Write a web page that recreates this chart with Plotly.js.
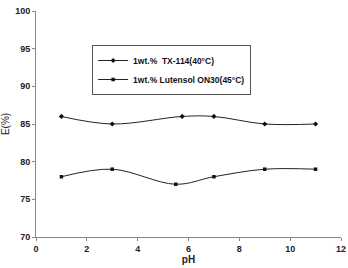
<!DOCTYPE html>
<html><head><meta charset="utf-8">
<script src="https://cdn.plot.ly/plotly-3.0.1.min.js"></script>
<style>html,body{margin:0;padding:0;background:#fff}#c{width:348px;height:268px}</style>
</head><body><div id="c"></div>
<script>
const txName = "1wt.%  TX-114(40°C)";
const txX = [1, 3, 5.75, 7, 9, 11];
const txY = [86, 85, 86, 86, 85, 85];
const luName = "1wt.% Lutensol ON30(45°C)";
const luX = [1, 3, 5.5, 7, 9, 11];
const luY = [78, 79, 77, 78, 79, 79];
const xTicks = [0, 2, 4, 6, 8, 10, 12];
const yTicks = [70, 75, 80, 85, 90, 95, 100];

const font = "Liberation Sans, Arial, sans-serif";
const traces = [
  {x: txX, y: txY, name: txName, type: "scatter", mode: "lines+markers",
   line: {color: "#222", width: 1, shape: "spline", smoothing: 1},
   marker: {symbol: "diamond", size: 4, color: "#111"}},
  {x: luX, y: luY, name: luName, type: "scatter", mode: "lines+markers",
   line: {color: "#222", width: 1, shape: "spline", smoothing: 1},
   marker: {symbol: "square", size: 3.5, color: "#111"}}
];
const layout = {
  width: 348, height: 268,
  margin: {l: 36, r: 7, t: 11, b: 31},
  paper_bgcolor: "#fff", plot_bgcolor: "#fff",
  font: {family: font, color: "#222"},
  showlegend: true,
  legend: {x: 0.184, y: 0.739, xanchor: "left", yanchor: "middle",
    bordercolor: "#555", borderwidth: 1, bgcolor: "#fff",
    font: {size: 8.5, family: font, color: "#111", weight: "bold"},
    tracegroupgap: 0, itemwidth: 30},
  xaxis: {range: [0, 12], tickvals: xTicks, ticktext: xTicks.map(String),
    showgrid: false, zeroline: false, showline: true, linecolor: "#888", linewidth: 1,
    ticks: "outside", ticklen: 3, tickcolor: "#888",
    tickfont: {size: 9, weight: "bold", color: "#222"},
    title: {text: "pH", font: {size: 10, weight: "bold", color: "#222"}, standoff: 3}},
  yaxis: {range: [70, 100], tickvals: yTicks, ticktext: yTicks.map(String),
    showgrid: false, zeroline: false, showline: true, linecolor: "#888", linewidth: 1,
    ticks: "outside", ticklen: 3, tickcolor: "#888",
    tickfont: {size: 9, weight: "bold", color: "#222"},
    title: {text: "E(%)", font: {size: 10, color: "#222"}, standoff: 4}}
};
Plotly.newPlot("c", traces, layout, {displayModeBar: false, staticPlot: true});
</script></body></html>
